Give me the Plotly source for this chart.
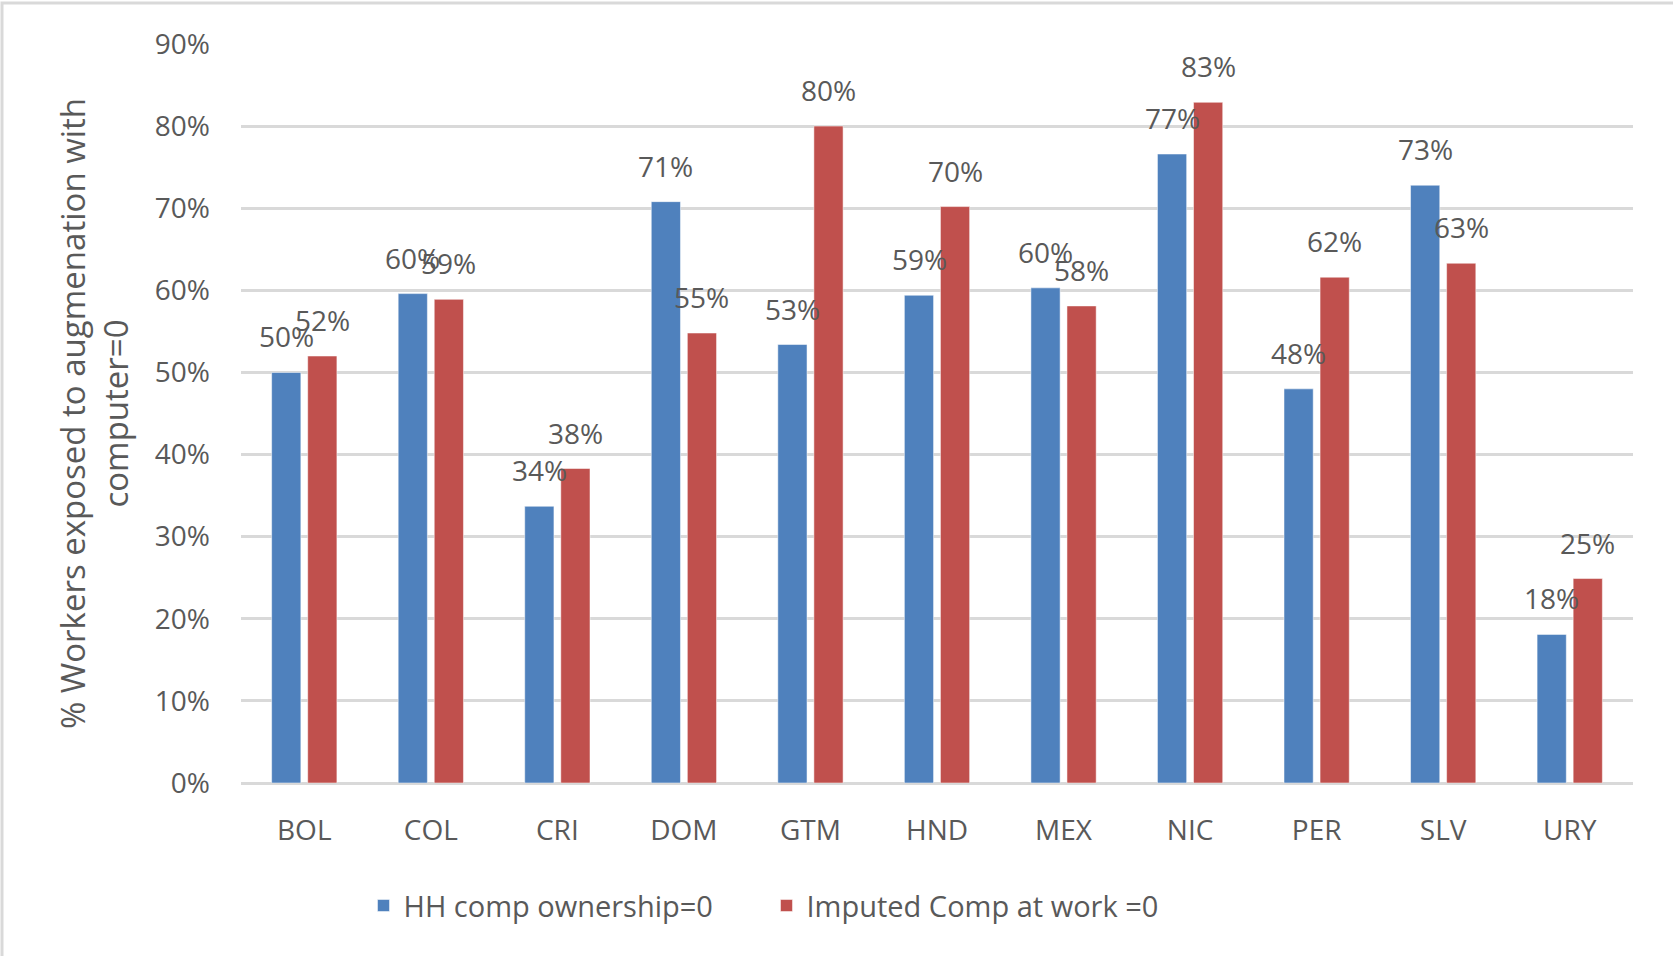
import plotly.graph_objects as go

countries = ["BOL", "COL", "CRI", "DOM", "GTM", "HND", "MEX", "NIC", "PER", "SLV", "URY"]
hh_ownership = [0.500, 0.596, 0.337, 0.708, 0.534, 0.594, 0.603, 0.766, 0.480, 0.728, 0.181]
imputed_work = [0.520, 0.589, 0.383, 0.548, 0.800, 0.702, 0.581, 0.829, 0.616, 0.633, 0.249]
series_names = ["HH comp ownership=0", "Imputed Comp at work =0"]
y_ticks = [0.0, 0.1, 0.2, 0.3, 0.4, 0.5, 0.6, 0.7, 0.8, 0.9]

BLUE = "#4F81BD"
RED = "#C0504D"
TEXT = "#595959"
GRID = "#D9D9D9"
FONT = "Open Sans"
FS = 28

fig = go.Figure()
for name, vals, col in [(series_names[0], hh_ownership, BLUE),
                        (series_names[1], imputed_work, RED)]:
    fig.add_trace(go.Bar(
        x=countries, y=vals, name=name,
        marker=dict(color=col, line=dict(color="rgba(255,255,255,0.5)", width=1)),
    ))

# value labels above each bar, shifted onto the matching bar of the pair
for vals, dx in [(hh_ownership, -18), (imputed_work, 18)]:
    for c, v in zip(countries, vals):
        fig.add_annotation(
            x=c, y=v, xref="x", yref="y", text=f"{v:.0%}", showarrow=False,
            xshift=dx, yshift=36, yanchor="middle",
            font=dict(family=FONT, size=FS, color=TEXT),
        )

# light chart-area frame
fig.add_shape(type="rect", xref="paper", yref="paper",
              x0=-0.1717, x1=1.1, y0=-0.4, y1=1.0555,
              line=dict(color=GRID, width=3), fillcolor="rgba(0,0,0,0)", layer="below")

fig.update_layout(
    width=1673, height=956,
    margin=dict(l=241, r=40, t=44, b=173),
    paper_bgcolor="white", plot_bgcolor="white",
    barmode="group", bargap=0.43, bargroupgap=0.19,
    font=dict(family=FONT, size=FS, color=TEXT),
    showlegend=True,
    legend=dict(orientation="h", x=0.088, xanchor="left", y=-0.166, yanchor="middle",
                font=dict(family=FONT, size=29, color=TEXT),
                entrywidth=358, entrywidthmode="pixels", itemwidth=30),
    xaxis=dict(showgrid=False, showline=False, ticks="", ticklabelstandoff=28,
               tickfont=dict(family=FONT, size=FS, color=TEXT)),
    yaxis=dict(range=[0, 0.9], tickvals=y_ticks, tickformat=".0%",
               showgrid=True, gridcolor=GRID, gridwidth=3,
               zeroline=True, zerolinecolor=GRID, zerolinewidth=3,
               showline=False, ticks="", ticklabelstandoff=30,
               tickfont=dict(family=FONT, size=FS, color=TEXT),
               title=dict(text="% Workers exposed to augmenation with<br>computer=0",
                          font=dict(family=FONT, size=33, color=TEXT), standoff=16)),
)

fig.write_html("out.html")
